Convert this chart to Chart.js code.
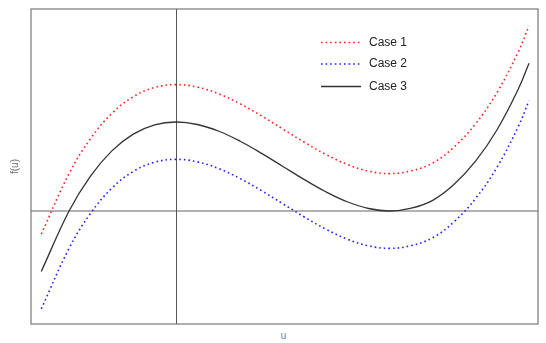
<!DOCTYPE html>
<html>
<head>
<meta charset="utf-8">
<script src="https://cdn.jsdelivr.net/npm/chart.js@4/dist/chart.umd.min.js"></script>
<style>
  html, body { margin: 0; padding: 0; background: #fff; }
  #wrap { width: 546px; height: 343px; }
</style>
</head>
<body>
<div id="wrap"><canvas id="chart" width="546" height="343"></canvas></div>
<script>
// values (u on x, f(u) on y)
const uValues = [-0.63, -0.5, -0.4, -0.3, -0.2, -0.1, 0, 0.1, 0.2, 0.3, 0.4, 0.5, 0.6, 0.7, 0.8, 0.9, 1.0, 1.1, 1.2, 1.3, 1.4, 1.5, 1.6, 1.65];
const case1 = [-0.26, 0.42, 0.812, 1.096, 1.284, 1.388, 1.42, 1.392, 1.316, 1.204, 1.068, 0.92, 0.772, 0.636, 0.524, 0.448, 0.42, 0.452, 0.54, 0.72, 0.98, 1.33, 1.79, 2.08];
const case2 = [-1.10, -0.42, -0.028, 0.256, 0.444, 0.548, 0.58, 0.552, 0.476, 0.364, 0.228, 0.08, -0.068, -0.204, -0.316, -0.392, -0.42, -0.388, -0.30, -0.12, 0.14, 0.49, 0.95, 1.24];
const case3 = [-0.68, 0, 0.392, 0.676, 0.864, 0.968, 1.00, 0.972, 0.896, 0.784, 0.648, 0.50, 0.352, 0.216, 0.104, 0.028, 0, 0.032, 0.12, 0.30, 0.56, 0.91, 1.37, 1.66];
const seriesLabels = ['Case 1', 'Case 2', 'Case 3'];

const xRange = [-0.678, 1.692];
const yRange = [-1.27, 2.27];

function toPoints(ys) {
    return uValues.map((u, i) => ({ x: u, y: ys[i] }));
}

// frame, the u=0 / f=0 reference lines, axis labels and the legend box
const decorations = {
    id: 'decorations',
    beforeDatasetsDraw(chart) {
        const { ctx, chartArea: a, scales } = chart;
        const x0 = Math.round(scales.x.getPixelForValue(0)) + 0.5;
        const y0 = scales.y.getPixelForValue(0);
        ctx.save();
        ctx.strokeStyle = '#999';
        ctx.lineWidth = 1.4;
        ctx.beginPath();
        ctx.moveTo(a.left, y0);
        ctx.lineTo(a.right, y0);
        ctx.stroke();
        ctx.strokeStyle = '#555';
        ctx.lineWidth = 1;
        ctx.beginPath();
        ctx.moveTo(x0, a.top);
        ctx.lineTo(x0, a.bottom);
        ctx.stroke();
        ctx.restore();
    },
    afterDatasetsDraw(chart) {
        const { ctx, chartArea: a } = chart;
        ctx.save();
        ctx.strokeStyle = '#777';
        ctx.lineWidth = 1.2;
        ctx.strokeRect(a.left, a.top, a.right - a.left, a.bottom - a.top);

        // axis titles
        ctx.font = '10px "Liberation Sans", Arial, sans-serif';
        ctx.fillStyle = '#6b6b6b';
        ctx.textAlign = 'center';
        ctx.textBaseline = 'middle';
        ctx.save();
        ctx.translate(15, (a.top + a.bottom) / 2);
        ctx.rotate(-Math.PI / 2);
        ctx.fillText('f(u)', 0, 0);
        ctx.restore();
        ctx.fillStyle = '#5b7fae';
        ctx.fillText('u', (a.left + a.right) / 2 - 1, 336);

        // legend
        const rows = [42.5, 64, 86.5];
        ctx.font = '12px "Liberation Sans", Arial, sans-serif';
        ctx.textAlign = 'left';
        chart.data.datasets.forEach((ds, i) => {
            ctx.save();
            ctx.strokeStyle = ds.borderColor;
            ctx.lineWidth = ds.borderWidth;
            ctx.setLineDash(ds.borderDash || []);
            ctx.beginPath();
            ctx.moveTo(321, rows[i]);
            ctx.lineTo(361, rows[i]);
            ctx.stroke();
            ctx.restore();
            ctx.fillStyle = '#222';
            ctx.fillText(ds.label, 369, rows[i]);
        });
        ctx.restore();
    }
};

new Chart(document.getElementById('chart'), {
    type: 'line',
    data: {
        datasets: [
            {
                label: seriesLabels[0],
                data: toPoints(case1),
                borderColor: '#ff2020',
                borderWidth: 1.6,
                borderDash: [1.6, 3],
                tension: 0.4,
                pointRadius: 0
            },
            {
                label: seriesLabels[1],
                data: toPoints(case2),
                borderColor: '#2020ff',
                borderWidth: 1.6,
                borderDash: [1.6, 3],
                tension: 0.4,
                pointRadius: 0
            },
            {
                label: seriesLabels[2],
                data: toPoints(case3),
                borderColor: '#333',
                borderWidth: 1.3,
                tension: 0.4,
                pointRadius: 0
            }
        ]
    },
    options: {
        responsive: false,
        animation: false,
        layout: { padding: { left: 31, top: 9, right: 8, bottom: 19 } },
        plugins: { legend: { display: false }, tooltip: { enabled: false } },
        scales: {
            x: { type: 'linear', min: xRange[0], max: xRange[1], display: false },
            y: { type: 'linear', min: yRange[0], max: yRange[1], display: false }
        }
    },
    plugins: [decorations]
});
</script>
</body>
</html>
